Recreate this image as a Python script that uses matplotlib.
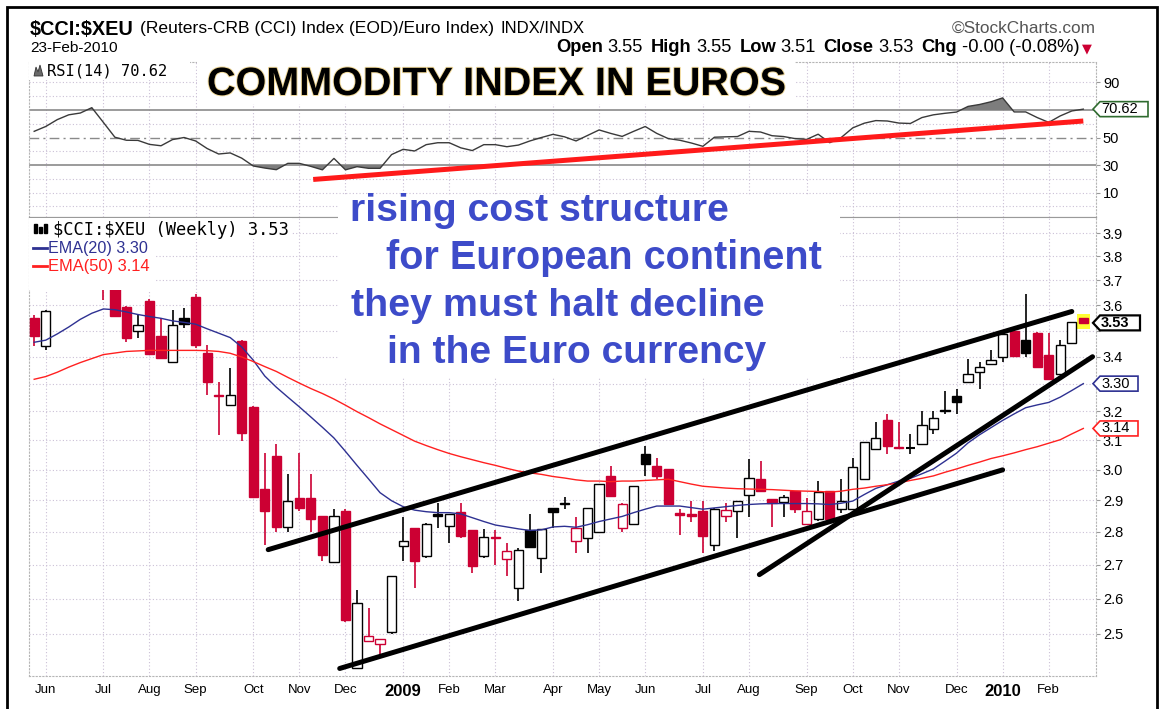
import numpy as np
import pandas as pd
import matplotlib
matplotlib.use("Agg")
import matplotlib.pyplot as plt
from matplotlib.patches import Rectangle, Polygon
import matplotlib.patheffects as pe

# weekly bars of $CCI:$XEU, first week starts Mon 26-May-2008, last is week of 22-Feb-2010
first_week = "2008-05-26"

opens = [3.55, 3.44, 3.69, 3.71, 3.77, 3.83, 3.80, 3.72, 3.592, 3.50,
         3.617, 3.48, 3.38, 3.548, 3.634, 3.415, 3.258, 3.223, 3.461, 3.215,
         2.935, 3.046, 2.816, 2.908, 2.906, 2.85, 2.707, 2.865, 2.408, 2.481,
         2.471, 2.505, 2.755, 2.812, 2.725, 2.855, 2.819, 2.862, 2.807, 2.725,
         2.784, 2.717, 2.631, 2.804, 2.72, 2.875, 2.888, 2.771, 2.781, 2.80,
         2.979, 2.812, 2.823, 3.051, 3.013, 3.002, 2.858, 2.855, 2.865, 2.76,
         2.85, 2.865, 2.916, 2.968, 2.903, 2.893, 2.928, 2.823, 2.839, 2.93,
         2.871, 2.871, 2.968, 3.069, 3.168, 3.075, 3.07, 3.086, 3.139, 3.20,
         3.255, 3.305, 3.344, 3.373, 3.40, 3.498, 3.464, 3.489, 3.406, 3.336,
         3.452, 3.55]
highs = [3.56, 3.58, 3.73, 3.80, 3.86, 3.88, 3.84, 3.74, 3.597, 3.56,
         3.625, 3.55, 3.58, 3.59, 3.645, 3.445, 3.306, 3.356, 3.465, 3.22,
         3.057, 3.086, 2.985, 3.057, 2.985, 2.85, 2.871, 2.871, 2.626, 2.572,
         2.485, 2.665, 2.845, 2.812, 2.826, 2.892, 2.855, 2.892, 2.807, 2.81,
         2.804, 2.766, 2.75, 2.855, 2.81, 2.875, 2.909, 2.845, 2.875, 2.952,
         3.013, 2.89, 2.947, 3.08, 3.04, 3.002, 2.871, 2.897, 2.897, 2.874,
         2.89, 2.897, 3.035, 3.03, 2.903, 2.915, 2.928, 2.908, 2.962, 2.93,
         2.968, 3.04, 3.093, 3.162, 3.192, 3.162, 3.122, 3.203, 3.20, 3.272,
         3.28, 3.393, 3.38, 3.424, 3.49, 3.50, 3.645, 3.495, 3.489, 3.464,
         3.532, 3.55]
lows = [3.44, 3.425, 3.68, 3.69, 3.74, 3.76, 3.62, 3.555, 3.455, 3.47,
        3.41, 3.396, 3.38, 3.51, 3.433, 3.257, 3.116, 3.223, 3.098, 2.91,
        2.76, 2.80, 2.80, 2.865, 2.80, 2.71, 2.707, 2.534, 2.408, 2.481,
        2.442, 2.50, 2.71, 2.631, 2.72, 2.812, 2.766, 2.78, 2.675, 2.72,
        2.70, 2.665, 2.592, 2.752, 2.675, 2.812, 2.871, 2.735, 2.735, 2.80,
        2.914, 2.80, 2.82, 2.979, 2.968, 2.886, 2.79, 2.829, 2.735, 2.741,
        2.83, 2.781, 2.845, 2.93, 2.816, 2.845, 2.86, 2.823, 2.835, 2.839,
        2.86, 2.871, 2.968, 3.069, 3.051, 3.071, 3.051, 3.086, 3.122, 3.192,
        3.192, 3.305, 3.282, 3.373, 3.38, 3.40, 3.40, 3.362, 3.318, 3.336,
        3.452, 3.51]
closes = [3.48, 3.575, 3.71, 3.77, 3.83, 3.80, 3.75, 3.557, 3.47, 3.52,
          3.41, 3.396, 3.52, 3.525, 3.445, 3.306, 3.254, 3.259, 3.125, 2.91,
          2.865, 2.816, 2.897, 2.875, 2.839, 2.73, 2.85, 2.539, 2.587, 2.495,
          2.485, 2.665, 2.771, 2.71, 2.823, 2.848, 2.855, 2.786, 2.697, 2.783,
          2.780, 2.741, 2.745, 2.752, 2.81, 2.862, 2.892, 2.812, 2.875, 2.952,
          2.914, 2.886, 2.947, 3.018, 2.979, 2.886, 2.852, 2.848, 2.786, 2.871,
          2.868, 2.897, 2.973, 2.93, 2.89, 2.91, 2.871, 2.866, 2.925, 2.839,
          2.897, 3.008, 3.093, 3.106, 3.08, 3.071, 3.073, 3.153, 3.176, 3.205,
          3.235, 3.336, 3.362, 3.386, 3.485, 3.404, 3.415, 3.362, 3.318, 3.445,
          3.532, 3.53]
ema20 = [3.455, 3.463, 3.487, 3.514, 3.544, 3.568, 3.585, 3.582, 3.573, 3.563,
         3.555, 3.548, 3.538, 3.532, 3.525, 3.507, 3.490, 3.473, 3.437, 3.387,
         3.328, 3.287, 3.251, 3.216, 3.180, 3.144, 3.107, 3.061, 3.014, 2.969,
         2.924, 2.898, 2.879, 2.868, 2.863, 2.860, 2.860, 2.856, 2.844, 2.832,
         2.821, 2.815, 2.809, 2.804, 2.806, 2.815, 2.817, 2.814, 2.822, 2.832,
         2.840, 2.848, 2.860, 2.871, 2.881, 2.881, 2.881, 2.876, 2.871, 2.875,
         2.879, 2.883, 2.886, 2.888, 2.889, 2.889, 2.889, 2.889, 2.888, 2.886,
         2.890, 2.897, 2.918, 2.938, 2.950, 2.962, 2.971, 2.986, 3.002, 3.028,
         3.055, 3.090, 3.118, 3.143, 3.168, 3.191, 3.213, 3.223, 3.232, 3.251,
         3.275, 3.30]
ema50 = [3.316, 3.326, 3.342, 3.361, 3.378, 3.393, 3.408, 3.414, 3.420, 3.422,
         3.424, 3.424, 3.424, 3.424, 3.424, 3.423, 3.420, 3.413, 3.399, 3.382,
         3.363, 3.345, 3.323, 3.302, 3.282, 3.264, 3.244, 3.222, 3.199, 3.178,
         3.156, 3.136, 3.116, 3.096, 3.081, 3.067, 3.054, 3.043, 3.033, 3.023,
         3.014, 3.004, 2.995, 2.989, 2.984, 2.977, 2.972, 2.966, 2.962, 2.962,
         2.960, 2.962, 2.962, 2.964, 2.966, 2.968, 2.960, 2.952, 2.945, 2.942,
         2.939, 2.937, 2.936, 2.935, 2.934, 2.932, 2.930, 2.929, 2.928, 2.926,
         2.929, 2.935, 2.939, 2.945, 2.950, 2.956, 2.964, 2.971, 2.979, 2.991,
         3.002, 3.014, 3.025, 3.037, 3.046, 3.056, 3.067, 3.077, 3.089, 3.101,
         3.121, 3.14]
rsi14 = [54.5, 58, 63, 66.5, 67.8, 71.7, 61, 50.2, 48, 47.9,
         45, 44, 48.5, 50, 47.5, 42, 38, 38.8, 35, 29.3,
         27.8, 26.6, 31.2, 31.2, 29, 26.5, 34.8, 26.5, 28.8, 27.6,
         27.6, 37.6, 41.4, 40.2, 44.8, 46.2, 46.2, 42.5, 40.5, 44.8,
         44.8, 43.3, 44.5, 47.5, 50, 52.3, 50.5, 47.5, 51.5, 55.5,
         53, 50.8, 54.5, 58, 53, 49.2, 48, 46, 43.6, 50.2,
         50.5, 50.7, 54.5, 54, 51.3, 50.7, 49.2, 48.6, 52.4, 46.2,
         50, 57, 60.4, 62.3, 62, 60.5, 60.2, 64.5, 66.5, 67.6,
         68.5, 72.6, 74, 76, 78.8, 68.6, 68.6, 64.5, 61, 65.7,
         69.3, 70.62]

price_levels = [2.5, 2.6, 2.7, 2.8, 2.9, 3.0, 3.1, 3.2, 3.3, 3.4, 3.5, 3.6, 3.7, 3.8, 3.9]
rsi_levels = [10, 30, 50, 70, 90]

# hand drawn trend lines: (week index, value) pairs
price_trends = [((20.3, 2.745), (90.0, 3.575)),
                ((26.5, 2.406), (84.0, 2.999)),
                ((62.9, 2.670), (91.8, 3.400))]
rsi_trend = ((24.2, 19.5), (91.0, 62.0))

notes = ["rising cost structure", "for European continent",
         "they must halt decline", "in the Euro currency"]

RED = "#cc0033"
GRID = "#cbc0d6"
W, H = 1161, 709

plt.rcParams['font.family'] = ['Liberation Sans', 'DejaVu Sans']
fig = plt.figure(figsize=(W / 100, H / 100), dpi=100)
R = fig.canvas.get_renderer()


def fx(px):
    return px / W


def fy(py):
    return 1 - py / H


n = len(closes)
idx = np.arange(n)
weeks = pd.date_range(first_week, periods=n, freq="7D")
month_pos = [i for i in range(1, n) if weeks[i].month != weeks[i - 1].month]
month_lab = [str(weeks[i].year) if weeks[i].month == 1 else weeks[i].strftime("%b")
             for i in month_pos]
XL = (-0.45, 92.1)
dots = (0, (1, 2))

# ---------------- RSI panel
axr = fig.add_axes([fx(29), fy(217), (1096 - 29) / W, (217 - 62) / H])
rsi = np.array(rsi14)
for v in (0, 10, 20, 40, 60, 80, 90):
    axr.axhline(v, color=GRID, lw=0.8, ls=dots, zorder=0)
for p in month_pos:
    axr.axvline(p, color=GRID, lw=0.8, ls=dots, zorder=0)
axr.axhline(70, color="#8a8a8a", lw=1.2, zorder=1)
axr.axhline(30, color="#8a8a8a", lw=1.2, zorder=1)
axr.axhline(50, color="#8a8a8a", lw=1.0, ls=(0, (7, 3, 1.5, 3)), zorder=1)
axr.fill_between(idx, 70, rsi, where=rsi > 70, interpolate=True, color="#7d7d7d", lw=0, zorder=2)
axr.fill_between(idx, 30, rsi, where=rsi < 30, interpolate=True, color="#7d7d7d", lw=0, zorder=2)
axr.plot(idx, rsi, color="#3a3a3a", lw=1.0, zorder=3)
(a0, b0), (a1, b1) = rsi_trend
axr.plot([a0, a1], [b0, b1], color="#ff1a1a", lw=3.6, solid_capstyle="butt", zorder=4)
axr.set_xlim(*XL)
axr.set_ylim(-7.8, 104.9)
axr.set_xticks([])
axr.yaxis.tick_right()
axr.set_yticks(rsi_levels)
# the 70 label sits under the RSI value tag
axr.set_yticklabels(["" if v == 70 else str(v) for v in rsi_levels])
axr.tick_params(axis="y", labelsize=10.5, length=3, color="#999999", pad=2)
for s in axr.spines.values():
    s.set_color("#b5b5b5")
    s.set_linestyle(dots)
    s.set_linewidth(0.8)
axr.spines["bottom"].set_linestyle("-")
axr.spines["bottom"].set_color("#9a9a9a")

# ---------------- price panel
ax = fig.add_axes([fx(29), fy(676), (1096 - 29) / W, (676 - 217) / H])
ax.set_yscale("log")
for v in price_levels:
    ax.axhline(v, color=GRID, lw=0.8, ls=dots, zorder=0)
for p in month_pos:
    ax.axvline(p, color=GRID, lw=0.8, ls=dots, zorder=0)

prev = [opens[0]] + closes[:-1]
for i in range(n):
    o, h, l, c = opens[i], highs[i], lows[i], closes[i]
    col = RED if c < prev[i] else "black"
    ax.vlines(i, l, h, color=col, lw=1.2, zorder=2)
    lo, hi = min(o, c), max(o, c)
    if hi - lo < 0.004:
        ax.hlines(c, i - 0.4, i + 0.4, color=col, lw=1.5, zorder=3)
        continue
    if i == n - 1:
        ax.add_patch(Rectangle((i - 0.55, 3.506), 1.1, 0.058, fc="#ffff33", ec="none", zorder=2.5))
    ax.add_patch(Rectangle((i - 0.4, lo), 0.8, hi - lo, fc=col if c < o else "white",
                           ec=col, lw=1.0, zorder=3))

ax.plot(idx, ema20, color="#2e3192", lw=1.0, zorder=4)
ax.plot(idx, ema50, color="#ff2020", lw=1.0, zorder=4)
for (a0, b0), (a1, b1) in price_trends:
    ax.plot([a0, a1], [b0, b1], color="black", lw=3.6, solid_capstyle="round", zorder=5)

ax.set_xlim(*XL)
ax.set_ylim(2.386, 3.97)
ax.yaxis.tick_right()
ax.set_yticks(price_levels)
# labels under the close and EMA(20) tags are left out
ax.set_yticklabels(["" if v in (3.3, 3.5) else f"{v:.1f}" for v in price_levels])
ax.yaxis.set_minor_locator(matplotlib.ticker.NullLocator())
ax.tick_params(axis="y", labelsize=10.5, length=3, color="#999999", pad=2)
ax.set_xticks(month_pos)
ax.set_xticklabels(month_lab)
ax.tick_params(axis="x", labelsize=9.5, length=0, pad=6)
for t in ax.get_xticklabels():
    if t.get_text().isdigit():
        t.set_fontweight("bold")
        t.set_fontsize(12)
for s in ax.spines.values():
    s.set_color("#b5b5b5")
    s.set_linestyle(dots)
    s.set_linewidth(0.8)
ax.spines["top"].set_linestyle("-")
ax.spines["top"].set_color("#9a9a9a")


# ---------------- text helpers
def put(s, x, yb, size, **kw):
    t = fig.text(fx(x), fy(yb), s, ha="left", va="baseline", fontsize=size, **kw)
    return t, t.get_window_extent(renderer=R).width


def fit(s, x0, x1, yb, **kw):
    t, w = put(s, x0, yb, 10, **kw)
    t.set_fontsize(10 * (x1 - x0) / w)
    return t


def fit_runs(runs, x0, x1, yb):
    ws = []
    for s, kw, g, rel in runs:
        t, w = put(s, x0, yb, 10 * rel, **kw)
        ws.append(w)
        t.remove()
    em = 10 * 100 / 72
    k = (x1 - x0) / (sum(ws) + sum(r[2] for r in runs) * em)
    x = x0
    for (s, kw, g, rel), w in zip(runs, ws):
        put(s, x, yb, 10 * k * rel, **kw)
        x += (w + g * em) * k


def white_box(x0, y0, x1, y1, z=2):
    fig.add_artist(Rectangle((fx(x0), fy(y1)), fx(x1) - fx(x0), fy(y0) - fy(y1),
                             transform=fig.transFigure, fc="white", ec="none", zorder=z))


def tag(axis, val, txt, ec, x1, bold=False):
    yp = H - axis.transData.transform((0, val))[1]
    pts = [(1093, yp), (1100, yp - 7.5), (x1, yp - 7.5), (x1, yp + 7.5), (1100, yp + 7.5)]
    fig.add_artist(Polygon([(fx(a), fy(b)) for a, b in pts], closed=True,
                           transform=fig.transFigure, fc="white", ec=ec,
                           lw=1.6 if bold else 1.2, zorder=6))
    fig.text(fx(1101), fy(yp), txt, ha="left", va="center", fontsize=10.5,
             fontweight="bold" if bold else "normal", zorder=7)


B = dict(fontweight="bold")
N = dict()

# header
fit(r"\$CCI:\$XEU", 30, 134, 35, fontweight="bold")
fit("(Reuters-CRB (CCI) Index (EOD)/Euro Index)", 140, 494, 33)
fit("INDX/INDX", 500, 584, 33)
fit("23-Feb-2010", 30, 118, 52)
fit("\u00a9StockCharts.com", 952, 1096, 33, color="#555555")
fit_runs([("Open", B, 0.25, 1), ("3.55", N, 0.4, 1), ("High", B, 0.25, 1), ("3.55", N, 0.4, 1),
          ("Low", B, 0.25, 1), ("3.51", N, 0.4, 1), ("Close", B, 0.25, 1), ("3.53", N, 0.4, 1),
          ("Chg", B, 0.25, 1), ("-0.00 (-0.08%)", N, 0.15, 1),
          ("\u25bc", dict(color=RED, family="DejaVu Sans"), 0, 0.7)],
         556, 1092, 52)

# RSI legend and title
white_box(29, 61, 190, 80)
fig.add_artist(Polygon([(fx(a), fy(b)) for a, b in [(34, 76), (36, 67), (38, 72), (40, 65), (43, 76)]],
                       closed=True, transform=fig.transFigure, fc="#6a6a6a", ec="#333333",
                       lw=0.6, zorder=3))
fit("RSI(14) 70.62", 47, 168, 76, family="DejaVu Sans Mono")
white_box(197, 56, 795, 104)
t = fit("COMMODITY INDEX IN EUROS", 207, 784, 95, fontweight="bold")
t.set_path_effects([pe.withStroke(linewidth=1.4, foreground="#f0d99a")])

# price legend
white_box(29, 218, 292, 239)
white_box(29, 218, 154, 290)
for x0, hgt in [(34, 9), (39, 6), (44, 9)]:
    fig.add_artist(Rectangle((fx(x0), fy(233)), 3 / W, hgt / H, transform=fig.transFigure,
                             fc="black", ec="black", zorder=3))
fit(r"\$CCI:\$XEU (Weekly) 3.53", 53, 290, 235, family="DejaVu Sans Mono")
fig.add_artist(matplotlib.lines.Line2D([fx(33), fx(47)], [fy(248), fy(248)], color="#2e3192",
                                       lw=2, transform=fig.transFigure, zorder=3))
fit("EMA(20) 3.30", 48, 148, 253, color="#2e3192")
fig.add_artist(matplotlib.lines.Line2D([fx(33), fx(47)], [fy(266), fy(266)], color="#ff2020",
                                       lw=2, transform=fig.transFigure, zorder=3))
fit("EMA(50) 3.14", 48, 150, 271, color="#ff2020")

# blue comment
white_box(338, 196, 840, 378)
for s, x0, x1, yb in zip(notes, [350, 386, 351, 387], [731, 822, 765, 767], [221, 269, 316, 363]):
    fit(s, x0, x1, yb, fontweight="bold", color="#3d4bc9", zorder=4)

# value tags on the right
tag(axr, rsi14[-1], f"{rsi14[-1]:.2f}", "#2f6b2f", 1148)
tag(ax, closes[-1], f"{closes[-1]:.2f}", "black", 1140, bold=True)
tag(ax, ema20[-1], f"{ema20[-1]:.2f}", "#2e3192", 1138)
tag(ax, ema50[-1], f"{ema50[-1]:.2f}", "#ff2020", 1138)

# outer frame (bottom edge falls outside the picture)
fig.add_artist(Rectangle((fx(7), fy(715)), fx(1157) - fx(7), fy(7) - fy(715),
                         transform=fig.transFigure, fill=False, ec="black", lw=2, zorder=8))

fig.savefig("out.png", dpi=100)
